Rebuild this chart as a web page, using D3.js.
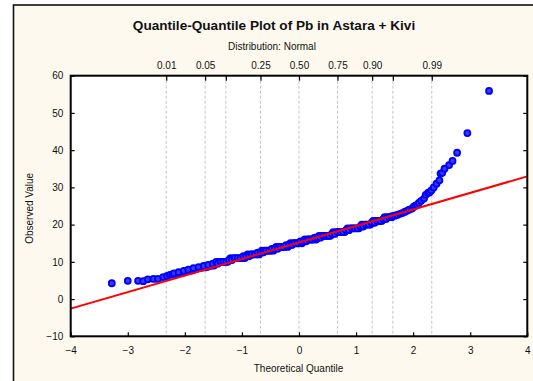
<!DOCTYPE html>
<html>
<head>
<meta charset="utf-8">
<script src="https://cdn.jsdelivr.net/npm/d3@7"></script>
<style>
  html, body { margin: 0; padding: 0; background: #ffffff; }
  svg { display: block; font-family: Arial, "Liberation Sans", sans-serif; }
</style>
</head>
<body>
<svg id="chart" width="533" height="381"></svg>
<script>
// ---------------- data ----------------
const titleText = "Quantile-Quantile Plot of Pb in Astara + Kivi";
const subtitleText = "Distribution: Normal";
const xAxisTitle = "Theoretical Quantile";
const yAxisTitle = "Observed Value";

const xTicks = [-4, -3, -2, -1, 0, 1, 2, 3, 4];
const yTicks = [-10, 0, 10, 20, 30, 40, 50, 60];
const probTicks = [0.01, 0.05, 0.10, 0.25, 0.50, 0.75, 0.90, 0.95, 0.99];
const probLabels = ["0.01", "0.05", "", "0.25", "0.50", "0.75", "0.90", "", "0.99"];

// theoretical quantile (x) and observed value (y) of each plotted point
const theoreticalQ = [
  // lower tail
  -3.28, -3.00, -2.82, -2.73, -2.65, -2.55, -2.47, -2.38, -2.31, -2.26,
  -2.22, -2.17, -2.13, -2.09, -2.05, -2.00, -1.96, -1.92, -1.87, -1.83,
  -1.78, -1.74, -1.70, -1.65, -1.61, -1.57, -1.53, -1.49,
  -2.19, -2.11, -2.02, -1.94, -1.85, -1.76, -1.67, -1.59, -1.51,
  // central band, lower edge
  -1.45, -1.40, -1.35, -1.30, -1.25, -1.20, -1.15, -1.10, -1.05, -1.00,
  -0.95, -0.90, -0.85, -0.80, -0.75, -0.70, -0.65, -0.60, -0.55, -0.50,
  -0.45, -0.40, -0.35, -0.30, -0.25, -0.20, -0.15, -0.10, -0.05, 0.00,
  0.05, 0.10, 0.15, 0.20, 0.25, 0.30, 0.35, 0.40, 0.45, 0.50,
  0.55, 0.60, 0.65, 0.70, 0.75, 0.80, 0.85, 0.90, 0.95, 1.00,
  1.05, 1.10, 1.15, 1.20, 1.25, 1.30, 1.35, 1.40, 1.45, 1.50,
  1.55, 1.60,
  // central band, upper edge
  -1.425, -1.375, -1.325, -1.275, -1.225, -1.175, -1.125, -1.075, -1.025, -0.975,
  -0.925, -0.875, -0.825, -0.775, -0.725, -0.675, -0.625, -0.575, -0.525, -0.475,
  -0.425, -0.375, -0.325, -0.275, -0.225, -0.175, -0.125, -0.075, -0.025, 0.025,
  0.075, 0.125, 0.175, 0.225, 0.275, 0.325, 0.375, 0.425, 0.475, 0.525,
  0.575, 0.625, 0.675, 0.725, 0.775, 0.825, 0.875, 0.925, 0.975, 1.025,
  1.075, 1.125, 1.175, 1.225, 1.275, 1.325, 1.375, 1.425, 1.475, 1.525,
  1.575, 1.625,
  // upper tail
  1.63, 1.68, 1.72, 1.77, 1.81, 1.85, 1.89, 1.93, 1.98, 2.01,
  2.04, 2.07, 2.10, 2.14, 2.19, 2.22, 2.26, 2.29, 2.32, 2.36,
  2.41, 2.46, 2.48, 2.51, 2.55, 2.63, 2.69, 2.77, 2.95, 3.33
];
const observed = [
  // lower tail
  4.25, 4.9, 4.9, 4.8, 5.3, 5.4, 5.4, 5.9, 6.2, 6.5,
  6.6, 6.6, 6.8, 7.0, 7.1, 7.2, 7.5, 7.6, 7.7, 8.0,
  8.2, 8.3, 8.5, 8.5, 8.6, 8.9, 9.0, 9.0,
  6.9, 7.2, 7.6, 7.9, 8.3, 8.6, 8.9, 9.2, 9.5,
  // central band, lower edge
  10, 10, 10, 10, 10, 11, 11, 11, 11, 11,
  11, 12, 12, 12, 12, 12, 13, 13, 13, 13,
  13, 14, 14, 14, 14, 14, 15, 15, 15, 15,
  15, 16, 16, 16, 16, 16, 17, 17, 17, 17,
  17, 18, 18, 18, 18, 18, 19, 19, 19, 19,
  19, 20, 20, 20, 20, 21, 21, 21, 21, 22,
  22, 22,
  // central band, upper edge
  9.5, 10.0, 10.0, 10.0, 10.5, 10.5, 11.0, 11.0, 11.0, 11.5,
  11.5, 11.5, 12.0, 12.0, 12.5, 12.5, 12.5, 13.0, 13.0, 13.5,
  13.5, 13.5, 14.0, 14.0, 14.5, 14.5, 14.5, 15.0, 15.0, 15.5,
  15.5, 15.5, 16.0, 16.0, 16.5, 16.5, 16.5, 17.0, 17.0, 17.0,
  17.5, 17.5, 18.0, 18.0, 18.0, 18.5, 18.5, 19.0, 19.0, 19.0,
  19.5, 19.5, 20.0, 20.0, 20.5, 20.5, 21.0, 21.0, 21.5, 21.5,
  22.0, 22.0,
  // upper tail
  22.3, 22.4, 22.6, 22.9, 23.1, 23.4, 23.7, 24.0, 24.3, 24.8,
  25.1, 25.3, 25.8, 26.4, 27.0, 28.0, 28.5, 28.7, 29.2, 30.0,
  31.0, 31.9, 33.7, 33.9, 35.0, 36.0, 37.1, 39.3, 44.6, 55.9
];

// reference (fit) line: observed = fitIntercept + fitSlope * quantile
const fitIntercept = 15.2;
const fitSlope = 4.44;

// ---------------- drawing ----------------
const svg = d3.select("#chart");
const W = 533, H = 381;
const plot = { left: 70.7, right: 527.3, top: 75.7, bottom: 336.3 };

// outer panel
svg.append("rect").attr("x", 0).attr("y", 0).attr("width", W).attr("height", H).attr("fill", "#ffffff");
svg.append("rect").attr("x", 13.5).attr("y", 5).attr("width", 600).attr("height", 500)
  .attr("fill", "#fdf9ef").attr("stroke", "#111").attr("stroke-width", 1.6);

const x = d3.scaleLinear().domain([-4, 4]).range([plot.left, plot.right]);
const y = d3.scaleLinear().domain([-10, 60]).range([plot.bottom, plot.top]);

// plot background
svg.append("rect").attr("x", plot.left).attr("y", plot.top)
  .attr("width", plot.right - plot.left).attr("height", plot.bottom - plot.top)
  .attr("fill", "#ffffff");

// clip
svg.append("clipPath").attr("id", "clip").append("rect")
  .attr("x", plot.left).attr("y", plot.top)
  .attr("width", plot.right - plot.left).attr("height", plot.bottom - plot.top);

// inverse standard normal (to place probability ticks on the quantile scale)
function normInv(p) {
  const a = [-3.969683028665376e+01, 2.209460984245205e+02, -2.759285104469687e+02, 1.383577518672690e+02, -3.066479806614716e+01, 2.506628277459239e+00];
  const b = [-5.447609879822406e+01, 1.615858368580409e+02, -1.556989798598866e+02, 6.680131188771972e+01, -1.328068155288572e+01];
  const c = [-7.784894002430293e-03, -3.223964580411365e-01, -2.400758277161838e+00, -2.549732539343734e+00, 4.374664141464968e+00, 2.938163982698783e+00];
  const d = [7.784695709041462e-03, 3.224671290700398e-01, 2.445134137142996e+00, 3.754408661907416e+00];
  const pl = 0.02425, ph = 1 - pl;
  let q, r;
  if (p < pl) {
    q = Math.sqrt(-2 * Math.log(p));
    return (((((c[0]*q+c[1])*q+c[2])*q+c[3])*q+c[4])*q+c[5]) / ((((d[0]*q+d[1])*q+d[2])*q+d[3])*q+1);
  } else if (p <= ph) {
    q = p - 0.5; r = q * q;
    return (((((a[0]*r+a[1])*r+a[2])*r+a[3])*r+a[4])*r+a[5])*q / (((((b[0]*r+b[1])*r+b[2])*r+b[3])*r+b[4])*r+1);
  } else {
    q = Math.sqrt(-2 * Math.log(1 - p));
    return -(((((c[0]*q+c[1])*q+c[2])*q+c[3])*q+c[4])*q+c[5]) / ((((d[0]*q+d[1])*q+d[2])*q+d[3])*q+1);
  }
}

// probability grid lines
svg.append("g").selectAll("line").data(probTicks).join("line")
  .attr("x1", p => x(normInv(p))).attr("x2", p => x(normInv(p)))
  .attr("y1", plot.top).attr("y2", plot.bottom)
  .attr("stroke", "#c4c4c4").attr("stroke-width", 1).attr("stroke-dasharray", "3,2");

// points
const pts = theoreticalQ.map((q, i) => ({ q, v: observed[i] }));
svg.append("g").attr("clip-path", "url(#clip)").selectAll("circle").data(pts).join("circle")
  .attr("cx", d => x(d.q)).attr("cy", d => y(d.v)).attr("r", 3)
  .attr("fill", "#3a3aff").attr("stroke", "#0000ff").attr("stroke-width", 1.8);

// fit line (drawn over the points)
svg.append("line")
  .attr("clip-path", "url(#clip)")
  .attr("x1", x(-4)).attr("y1", y(fitIntercept + fitSlope * -4))
  .attr("x2", x(4)).attr("y2", y(fitIntercept + fitSlope * 4))
  .attr("stroke", "#ff0000").attr("stroke-width", 2);

// axes (ticks inward)
const axisStyle = g => {
  g.select(".domain").remove();
  g.selectAll(".tick line").attr("stroke", "#000").attr("stroke-width", 1.2);
  g.selectAll(".tick text").attr("font-size", 10).attr("fill", "#111")
    .attr("font-family", "Arial, 'Liberation Sans', sans-serif");
};

// bottom
svg.append("g").attr("transform", `translate(0,${plot.bottom})`)
  .call(d3.axisBottom(x).tickValues(xTicks).tickFormat(d3.format("d")).tickSizeInner(-4).tickSizeOuter(0).tickPadding(10.5))
  .call(axisStyle);
// top (probability ticks, labels)
svg.append("g").attr("transform", `translate(0,${plot.top})`)
  .call(d3.axisTop(x).tickValues(probTicks.map(normInv)).tickFormat((d, i) => probLabels[i]).tickSizeInner(-5).tickSizeOuter(0).tickPadding(7.2))
  .call(axisStyle);
// left
svg.append("g").attr("transform", `translate(${plot.left},0)`)
  .call(d3.axisLeft(y).tickValues(yTicks).tickFormat(d3.format("d")).tickSizeInner(-4).tickSizeOuter(0).tickPadding(7.4))
  .call(axisStyle);
// right
svg.append("g").attr("transform", `translate(${plot.right},0)`)
  .call(d3.axisRight(y).tickValues(yTicks).tickFormat("").tickSizeInner(-4).tickSizeOuter(0))
  .call(axisStyle);

// plot frame
svg.append("rect").attr("x", plot.left).attr("y", plot.top)
  .attr("width", plot.right - plot.left).attr("height", plot.bottom - plot.top)
  .attr("fill", "none").attr("stroke", "#000").attr("stroke-width", 2);

// titles
svg.append("text").attr("x", 274).attr("y", 30).attr("text-anchor", "middle")
  .attr("font-size", 13.6).attr("font-weight", "bold").attr("fill", "#111").text(titleText);
svg.append("text").attr("x", 272).attr("y", 50).attr("text-anchor", "middle")
  .attr("font-size", 10).attr("fill", "#111").text(subtitleText);
svg.append("text").attr("x", 298.5).attr("y", 372).attr("text-anchor", "middle")
  .attr("font-size", 10).attr("fill", "#111").text(xAxisTitle);
svg.append("text").attr("transform", "translate(32.5,208.3) rotate(-90)").attr("text-anchor", "middle")
  .attr("font-size", 10).attr("fill", "#111").text(yAxisTitle);
</script>
</body>
</html>
